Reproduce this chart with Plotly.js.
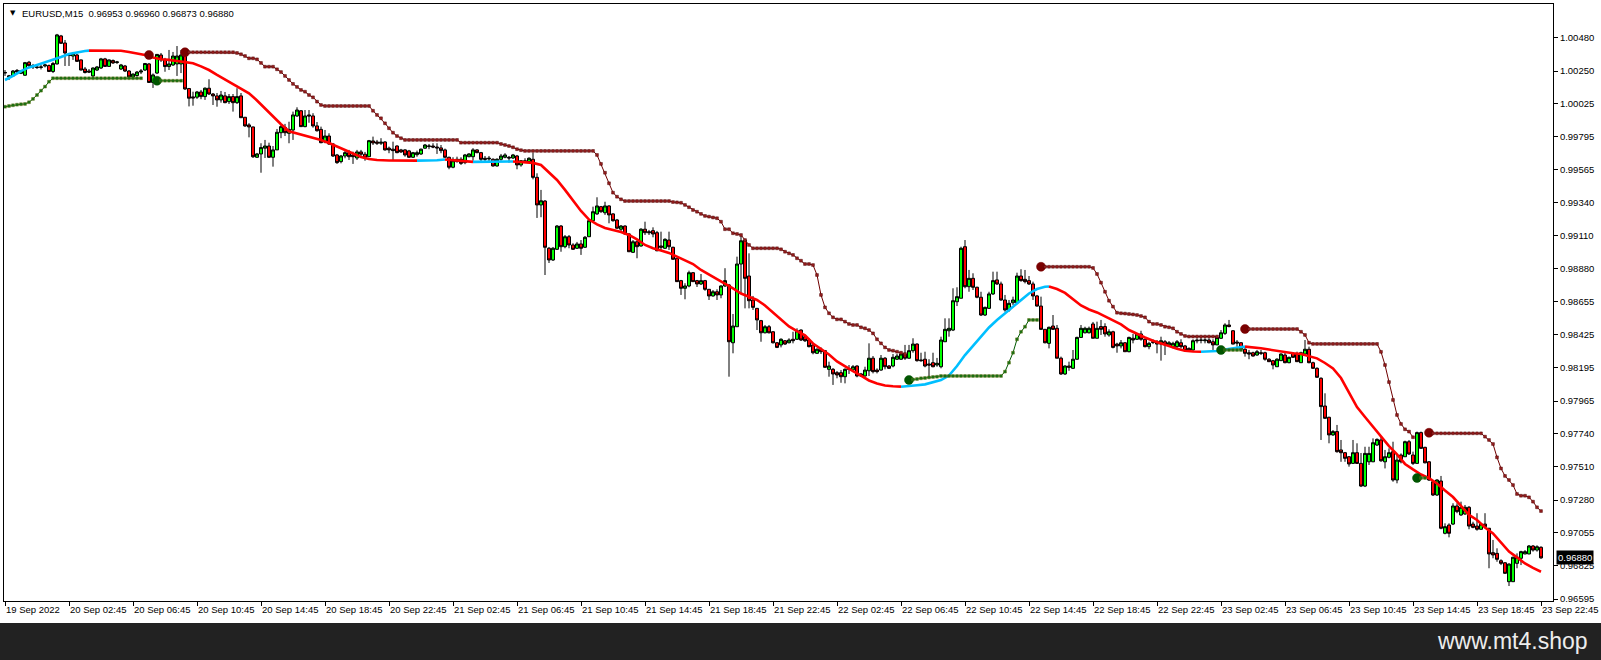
<!DOCTYPE html>
<html><head><meta charset="utf-8">
<script src="https://cdn.plot.ly/plotly-3.0.1.min.js"></script>
<style>html,body{margin:0;padding:0;background:#fff;}#chart{width:1601px;height:660px;}</style>
</head><body><div id="chart"></div>
<script>
const symbolName = 'EURUSD,M15';
const watermark = 'www.mt4.shop';

const timeTickBars = [0,16,32,48,64,80,96,112,128,144,160,176,192,208,224,240,256,272,288,304,320,336,352,368,384];
const timeTickLabels = ['19 Sep 2022','20 Sep 02:45','20 Sep 06:45','20 Sep 10:45','20 Sep 14:45','20 Sep 18:45','20 Sep 22:45',
  '21 Sep 02:45','21 Sep 06:45','21 Sep 10:45','21 Sep 14:45','21 Sep 18:45','21 Sep 22:45',
  '22 Sep 02:45','22 Sep 06:45','22 Sep 10:45','22 Sep 14:45','22 Sep 18:45','22 Sep 22:45',
  '23 Sep 02:45','23 Sep 06:45','23 Sep 10:45','23 Sep 14:45','23 Sep 18:45','23 Sep 22:45'];
const priceTicks = [1.00480,1.00250,1.00025,0.99795,0.99565,0.99340,0.99110,0.98880,0.98655,0.98425,0.98195,0.97965,0.97740,0.97510,0.97280,0.97055,0.96825,0.96595];

const open = [
1.00236,1.00209,1.00216,1.00254,1.00234,1.00221,1.00311,1.00278,1.00278,1.00275,
1.00285,1.00288,1.00247,1.00299,1.00493,1.00444,1.00361,1.00354,1.00361,1.00327,
1.00264,1.00250,1.00216,1.00257,1.00271,1.00334,1.00282,1.00323,1.00309,1.00264,
1.00285,1.00250,1.00209,1.00219,1.00243,1.00257,1.00299,1.00171,1.00236,1.00361,
1.00327,1.00281,1.00292,1.00299,1.00299,1.00361,1.00129,1.00071,1.00069,1.00105,
1.00073,1.00131,1.00091,1.00078,1.00050,1.00078,1.00038,1.00073,1.00031,1.00078,
0.99930,0.99877,0.99863,0.99653,0.99676,0.99716,0.99731,0.99653,0.99704,0.99823,
0.99860,0.99819,0.99842,0.99939,0.99975,0.99865,0.99946,0.99939,0.99870,0.99846,
0.99759,0.99800,0.99745,0.99669,0.99623,0.99662,0.99685,0.99669,0.99648,0.99690,
0.99674,0.99657,0.99766,0.99759,0.99750,0.99759,0.99716,0.99709,0.99731,0.99704,
0.99704,0.99697,0.99653,0.99671,0.99676,0.99716,0.99727,0.99731,0.99724,0.99718,
0.99704,0.99653,0.99584,0.99623,0.99639,0.99616,0.99657,0.99657,0.99704,0.99685,
0.99646,0.99641,0.99639,0.99593,0.99639,0.99653,0.99653,0.99648,0.99662,0.99600,
0.99629,0.99623,0.99639,0.99514,0.99323,0.99350,0.99023,0.98942,0.99016,0.99177,
0.99034,0.99103,0.99046,0.99023,0.99053,0.99030,0.99103,0.99214,0.99261,0.99311,
0.99269,0.99316,0.99261,0.99219,0.99155,0.99177,0.99122,0.98995,0.99068,0.99039,
0.99155,0.99138,0.99145,0.99131,0.99039,0.99023,0.99080,0.99030,0.98954,0.98799,
0.98746,0.98762,0.98854,0.98799,0.98776,0.98799,0.98739,0.98693,0.98722,0.98700,
0.98762,0.98769,0.98369,0.98480,0.98914,0.99080,0.98831,0.98665,0.98607,0.98522,
0.98438,0.98480,0.98445,0.98369,0.98354,0.98383,0.98369,0.98393,0.98393,0.98457,
0.98411,0.98388,0.98354,0.98296,0.98324,0.98314,0.98185,0.98185,0.98162,0.98162,
0.98134,0.98189,0.98182,0.98208,0.98153,0.98139,0.98175,0.98262,0.98180,0.98180,
0.98262,0.98208,0.98208,0.98255,0.98255,0.98291,0.98262,0.98314,0.98360,0.98250,
0.98255,0.98222,0.98231,0.98215,0.98203,0.98376,0.98452,0.98457,0.98653,0.98677,
0.99034,0.98757,0.98815,0.98753,0.98684,0.98561,0.98607,0.98707,0.98804,0.98776,
0.98665,0.98596,0.98646,0.98646,0.98831,0.98808,0.98799,0.98776,0.98693,0.98623,
0.98462,0.98365,0.98485,0.98469,0.98262,0.98153,0.98208,0.98192,0.98255,0.98406,
0.98438,0.98438,0.98499,0.98400,0.98481,0.98481,0.98423,0.98445,0.98360,0.98347,
0.98369,0.98307,0.98400,0.98393,0.98430,0.98393,0.98342,0.98376,0.98376,0.98360,
0.98376,0.98354,0.98342,0.98342,0.98369,0.98347,0.98330,0.98319,0.98388,0.98388,
0.98383,0.98388,0.98376,0.98354,0.98400,0.98434,0.98492,0.98452,0.98374,0.98369,
0.98324,0.98300,0.98300,0.98284,0.98300,0.98300,0.98255,0.98245,0.98203,0.98245,
0.98284,0.98231,0.98296,0.98291,0.98231,0.98291,0.98324,0.98231,0.98192,0.98123,
0.97931,0.97853,0.97731,0.97754,0.97627,0.97608,0.97580,0.97534,0.97608,0.97534,
0.97377,0.97545,0.97545,0.97661,0.97696,0.97545,0.97576,0.97615,0.97419,0.97592,
0.97580,0.97684,0.97592,0.97534,0.97747,0.97645,0.97545,0.97407,0.97315,0.97412,
0.97050,0.97107,0.97114,0.97239,0.97177,0.97184,0.97230,0.97114,0.97100,0.97078,
0.97114,0.97085,0.96916,0.96911,0.96860,0.96846,0.96715,0.96715,0.96842,0.96877,
0.96907,0.96907,0.96962,0.96934,0.96953];

const high = [
1.00257,1.00223,1.00257,1.00264,1.00257,1.00313,1.00320,1.00299,1.00288,1.00292,
1.00299,1.00295,1.00313,1.00507,1.00500,1.00465,1.00375,1.00382,1.00368,1.00330,
1.00278,1.00264,1.00275,1.00285,1.00341,1.00341,1.00330,1.00330,1.00320,1.00299,
1.00292,1.00257,1.00233,1.00250,1.00264,1.00306,1.00306,1.00233,1.00368,1.00375,
1.00341,1.00396,1.00382,1.00423,1.00396,1.00382,1.00133,1.00107,1.00112,1.00119,
1.00137,1.00193,1.00098,1.00098,1.00112,1.00105,1.00091,1.00091,1.00131,1.00098,
0.99932,0.99889,0.99865,0.99683,0.99750,0.99773,0.99754,0.99731,0.99849,0.99877,
0.99884,0.99899,0.99969,0.99999,0.99980,0.99980,0.99980,0.99958,0.99897,0.99865,
0.99842,0.99819,0.99752,0.99676,0.99669,0.99704,0.99704,0.99692,0.99704,0.99704,
0.99690,0.99773,0.99796,0.99773,0.99785,0.99764,0.99727,0.99761,0.99736,0.99711,
0.99709,0.99704,0.99690,0.99699,0.99713,0.99745,0.99745,0.99750,0.99750,0.99738,
0.99713,0.99657,0.99653,0.99657,0.99653,0.99676,0.99681,0.99716,0.99709,0.99690,
0.99662,0.99662,0.99646,0.99646,0.99676,0.99681,0.99662,0.99676,0.99669,0.99634,
0.99646,0.99653,0.99685,0.99542,0.99427,0.99357,0.99032,0.99032,0.99184,0.99184,
0.99115,0.99115,0.99058,0.99067,0.99080,0.99108,0.99219,0.99311,0.99376,0.99316,
0.99345,0.99321,0.99266,0.99226,0.99184,0.99182,0.99127,0.99080,0.99078,0.99162,
0.99207,0.99150,0.99168,0.99143,0.99138,0.99092,0.99138,0.99034,0.98956,0.98804,
0.98781,0.98868,0.98859,0.98804,0.98845,0.98804,0.98741,0.98734,0.98739,0.98767,
0.98885,0.98776,0.98568,0.98965,0.99115,0.99073,0.98988,0.98693,0.98610,0.98527,
0.98492,0.98492,0.98450,0.98374,0.98400,0.98388,0.98400,0.98445,0.98469,0.98462,
0.98416,0.98400,0.98358,0.98331,0.98337,0.98319,0.98238,0.98194,0.98173,0.98180,
0.98192,0.98215,0.98215,0.98213,0.98160,0.98203,0.98365,0.98277,0.98192,0.98284,
0.98270,0.98215,0.98291,0.98291,0.98307,0.98354,0.98354,0.98400,0.98365,0.98300,
0.98307,0.98255,0.98300,0.98264,0.98411,0.98538,0.98538,0.98746,0.98753,0.99034,
0.99080,0.98873,0.98850,0.98757,0.98722,0.98619,0.98722,0.98861,0.98861,0.98792,
0.98700,0.98665,0.98688,0.98854,0.98878,0.98873,0.98831,0.98792,0.98700,0.98688,
0.98464,0.98481,0.98561,0.98492,0.98273,0.98213,0.98238,0.98319,0.98411,0.98492,
0.98480,0.98481,0.98513,0.98515,0.98527,0.98504,0.98462,0.98452,0.98369,0.98388,
0.98374,0.98411,0.98430,0.98434,0.98452,0.98397,0.98376,0.98393,0.98388,0.98411,
0.98388,0.98381,0.98376,0.98388,0.98393,0.98354,0.98337,0.98393,0.98400,0.98406,
0.98400,0.98400,0.98393,0.98411,0.98457,0.98504,0.98527,0.98457,0.98388,0.98374,
0.98331,0.98319,0.98307,0.98319,0.98319,0.98307,0.98262,0.98250,0.98262,0.98296,
0.98300,0.98273,0.98305,0.98307,0.98307,0.98388,0.98342,0.98238,0.98199,0.98130,
0.98019,0.97857,0.97765,0.97800,0.97696,0.97613,0.97585,0.97696,0.97673,0.97606,
0.97649,0.97649,0.97707,0.97707,0.97719,0.97627,0.97638,0.97684,0.97592,0.97603,
0.97691,0.97696,0.97615,0.97754,0.97754,0.97649,0.97550,0.97412,0.97424,0.97447,
0.97119,0.97119,0.97258,0.97258,0.97269,0.97246,0.97239,0.97130,0.97189,0.97119,
0.97189,0.97087,0.97004,0.96946,0.96870,0.96851,0.96842,0.96888,0.96911,0.96929,
0.96934,0.96969,0.96969,0.96967,0.96960];

const low = [
1.00216,1.00188,1.00209,1.00229,1.00229,1.00216,1.00278,1.00264,1.00264,1.00261,
1.00275,1.00243,1.00236,1.00295,1.00437,1.00285,1.00285,1.00327,1.00313,1.00254,
1.00233,1.00236,1.00209,1.00250,1.00264,1.00278,1.00278,1.00299,1.00299,1.00257,
1.00243,1.00202,1.00202,1.00212,1.00229,1.00250,1.00168,1.00133,1.00229,1.00313,
1.00245,1.00257,1.00285,1.00216,1.00236,1.00119,1.00005,1.00010,1.00057,1.00055,
1.00050,1.00084,1.00015,1.00003,1.00031,1.00027,1.00022,0.99969,1.00022,0.99925,
0.99863,0.99791,0.99648,0.99648,0.99546,0.99648,0.99648,0.99588,0.99704,0.99785,
0.99800,0.99750,0.99773,0.99932,0.99863,0.99861,0.99892,0.99858,0.99830,0.99750,
0.99750,0.99738,0.99655,0.99607,0.99611,0.99646,0.99634,0.99607,0.99634,0.99657,
0.99629,0.99655,0.99738,0.99738,0.99738,0.99699,0.99681,0.99629,0.99681,0.99683,
0.99657,0.99648,0.99648,0.99657,0.99669,0.99711,0.99709,0.99716,0.99676,0.99681,
0.99648,0.99570,0.99577,0.99616,0.99600,0.99605,0.99653,0.99629,0.99681,0.99616,
0.99623,0.99616,0.99588,0.99588,0.99629,0.99646,0.99616,0.99641,0.99570,0.99588,
0.99616,0.99620,0.99500,0.99233,0.99238,0.98838,0.98921,0.98935,0.99011,0.98999,
0.99023,0.99023,0.99011,0.99018,0.98977,0.99025,0.99101,0.99212,0.99254,0.99269,
0.99254,0.99196,0.99207,0.99157,0.99138,0.99117,0.98997,0.98990,0.98954,0.99034,
0.99115,0.99115,0.99099,0.99002,0.99011,0.99018,0.99011,0.98942,0.98790,0.98700,
0.98670,0.98753,0.98790,0.98755,0.98769,0.98729,0.98665,0.98688,0.98665,0.98677,
0.98755,0.98134,0.98296,0.98478,0.98711,0.98607,0.98607,0.98596,0.98457,0.98376,
0.98434,0.98434,0.98364,0.98332,0.98337,0.98354,0.98365,0.98365,0.98388,0.98381,
0.98374,0.98337,0.98289,0.98291,0.98291,0.98194,0.98134,0.98077,0.98123,0.98092,
0.98088,0.98153,0.98175,0.98130,0.98132,0.98134,0.98139,0.98157,0.98157,0.98175,
0.98185,0.98187,0.98199,0.98250,0.98250,0.98250,0.98257,0.98300,0.98238,0.98238,
0.98199,0.98134,0.98199,0.98203,0.98192,0.98374,0.98411,0.98450,0.98623,0.98677,
0.98746,0.98722,0.98734,0.98677,0.98554,0.98554,0.98603,0.98700,0.98769,0.98660,
0.98584,0.98584,0.98630,0.98637,0.98792,0.98780,0.98769,0.98665,0.98619,0.98457,
0.98365,0.98330,0.98457,0.98262,0.98146,0.98146,0.98175,0.98187,0.98250,0.98402,
0.98434,0.98434,0.98400,0.98400,0.98423,0.98411,0.98411,0.98330,0.98300,0.98330,
0.98305,0.98303,0.98365,0.98388,0.98383,0.98337,0.98324,0.98360,0.98296,0.98245,
0.98284,0.98347,0.98330,0.98330,0.98330,0.98307,0.98307,0.98314,0.98365,0.98365,
0.98365,0.98365,0.98319,0.98354,0.98395,0.98423,0.98476,0.98358,0.98342,0.98319,
0.98273,0.98255,0.98273,0.98279,0.98284,0.98245,0.98236,0.98185,0.98201,0.98243,
0.98227,0.98227,0.98264,0.98236,0.98229,0.98284,0.98227,0.98187,0.98125,0.97696,
0.97841,0.97673,0.97724,0.97608,0.97545,0.97545,0.97511,0.97530,0.97530,0.97370,
0.97370,0.97523,0.97543,0.97654,0.97545,0.97499,0.97569,0.97407,0.97396,0.97534,
0.97578,0.97592,0.97523,0.97534,0.97634,0.97534,0.97412,0.97308,0.97308,0.97078,
0.97043,0.97022,0.97107,0.97189,0.97170,0.97177,0.97078,0.97085,0.97068,0.97073,
0.97085,0.96808,0.96877,0.96853,0.96830,0.96768,0.96685,0.96713,0.96808,0.96830,
0.96905,0.96905,0.96923,0.96923,0.96873];

const close = [
1.00240,1.00216,1.00250,1.00243,1.00252,1.00308,1.00287,1.00288,1.00275,1.00278,
1.00292,1.00247,1.00302,1.00500,1.00442,1.00375,1.00358,1.00372,1.00317,1.00257,
1.00240,1.00243,1.00271,1.00278,1.00334,1.00282,1.00327,1.00306,1.00313,1.00292,
1.00250,1.00209,1.00229,1.00243,1.00250,1.00302,1.00171,1.00223,1.00365,1.00327,
1.00281,1.00299,1.00354,1.00354,1.00361,1.00126,1.00062,1.00064,1.00105,1.00073,
1.00131,1.00091,1.00078,1.00050,1.00084,1.00031,1.00073,1.00031,1.00073,0.99927,
0.99870,0.99863,0.99657,0.99676,0.99720,0.99731,0.99653,0.99704,0.99826,0.99865,
0.99823,0.99846,0.99946,0.99980,0.99865,0.99939,0.99939,0.99870,0.99837,0.99754,
0.99800,0.99745,0.99662,0.99616,0.99662,0.99685,0.99657,0.99657,0.99690,0.99674,
0.99648,0.99768,0.99752,0.99750,0.99757,0.99704,0.99704,0.99699,0.99685,0.99690,
0.99669,0.99653,0.99685,0.99685,0.99709,0.99738,0.99731,0.99724,0.99718,0.99699,
0.99653,0.99584,0.99629,0.99639,0.99611,0.99669,0.99676,0.99704,0.99685,0.99639,
0.99639,0.99646,0.99593,0.99639,0.99662,0.99669,0.99648,0.99669,0.99600,0.99629,
0.99623,0.99646,0.99514,0.99323,0.99352,0.99030,0.98942,0.99023,0.99177,0.99034,
0.99103,0.99046,0.99016,0.99053,0.99023,0.99099,0.99214,0.99276,0.99316,0.99276,
0.99316,0.99254,0.99214,0.99162,0.99177,0.99122,0.98999,0.99068,0.99034,0.99155,
0.99131,0.99131,0.99122,0.99006,0.99030,0.99085,0.99034,0.98947,0.98792,0.98746,
0.98762,0.98854,0.98792,0.98776,0.98799,0.98739,0.98693,0.98722,0.98700,0.98762,
0.98799,0.98376,0.98485,0.98914,0.99075,0.98815,0.98660,0.98614,0.98527,0.98438,
0.98480,0.98438,0.98369,0.98337,0.98393,0.98360,0.98388,0.98383,0.98452,0.98388,
0.98383,0.98342,0.98300,0.98324,0.98307,0.98199,0.98208,0.98153,0.98146,0.98134,
0.98185,0.98185,0.98203,0.98139,0.98139,0.98180,0.98262,0.98169,0.98169,0.98262,
0.98203,0.98192,0.98268,0.98277,0.98291,0.98262,0.98314,0.98360,0.98245,0.98245,
0.98208,0.98215,0.98203,0.98227,0.98388,0.98462,0.98469,0.98660,0.98688,0.99023,
0.98757,0.98815,0.98753,0.98684,0.98561,0.98614,0.98707,0.98799,0.98776,0.98665,
0.98596,0.98642,0.98665,0.98831,0.98799,0.98792,0.98776,0.98693,0.98623,0.98462,
0.98369,0.98476,0.98462,0.98262,0.98153,0.98208,0.98199,0.98255,0.98406,0.98469,
0.98469,0.98469,0.98400,0.98469,0.98462,0.98430,0.98445,0.98337,0.98347,0.98369,
0.98307,0.98406,0.98388,0.98430,0.98393,0.98342,0.98365,0.98372,0.98360,0.98383,
0.98354,0.98369,0.98365,0.98376,0.98342,0.98314,0.98314,0.98383,0.98383,0.98386,
0.98388,0.98369,0.98354,0.98406,0.98438,0.98492,0.98481,0.98360,0.98367,0.98324,
0.98296,0.98291,0.98277,0.98307,0.98296,0.98255,0.98238,0.98215,0.98255,0.98291,
0.98231,0.98268,0.98268,0.98238,0.98300,0.98324,0.98231,0.98192,0.98130,0.97927,
0.97846,0.97731,0.97754,0.97615,0.97608,0.97569,0.97530,0.97608,0.97534,0.97377,
0.97603,0.97603,0.97677,0.97700,0.97552,0.97580,0.97608,0.97419,0.97557,0.97545,
0.97684,0.97599,0.97534,0.97747,0.97638,0.97538,0.97419,0.97315,0.97419,0.97085,
0.97096,0.97050,0.97239,0.97200,0.97230,0.97230,0.97100,0.97091,0.97078,0.97114,
0.97096,0.96907,0.96900,0.96870,0.96842,0.96773,0.96837,0.96884,0.96884,0.96923,
0.96923,0.96962,0.96934,0.96957,0.96880];

// smoothed moving average, sampled along the bars
const maBars = [0,2,4,6,8,10,12,14,16,18,20,21,24,27,29,31,33,35,37,39,41,43,45,47,49,51,53,55,57,59,61,63,65,67,69,71,73,75,77,79,81,83,85,87,89,91,93,96,99,103,106,108,110,113,117,122,127,130,132,134,136,138,140,142,144,146,148,150,152,154,156,158,160,162,164,166,168,170,172,174,176,178,180,182,184,186,188,190,192,194,196,198,200,202,204,206,208,210,212,214,216,218,220,222,224,226,228,230,232,234,236,238,240,242,244,246,248,250,252,254,256,258,260,261,263,265,267,269,271,273,275,277,279,281,283,285,287,289,291,293,295,297,299,301,303,305,307,310,312,314,316,318,320,322,324,326,328,330,332,334,336,338,340,342,344,346,348,350,352,354,356,358,360,362,364,366,368,370,372,374,376,378,380,382,384];
const maValues = [
1.00188,1.00216,1.00250,1.00275,1.00292,1.00309,1.00327,1.00347,1.00368,1.00380,1.00389,1.00391,1.00391,1.00391,1.00390,1.00382,1.00373,1.00361,1.00344,1.00332,
1.00327,1.00320,1.00315,1.00304,1.00282,1.00257,1.00223,1.00192,1.00157,1.00131,1.00096,1.00046,0.99991,0.99932,0.99882,0.99833,0.99818,0.99805,0.99790,0.99773,
0.99752,0.99728,0.99704,0.99679,0.99655,0.99641,0.99634,0.99631,0.99630,0.99630,0.99631,0.99632,0.99638,0.99631,0.99621,0.99622,0.99624,0.99621,0.99614,0.99600,
0.99548,0.99496,0.99427,0.99350,0.99281,0.99222,0.99188,0.99164,0.99150,0.99136,0.99115,0.99084,0.99046,0.99023,0.99008,0.98991,0.98965,0.98942,0.98914,0.98873,
0.98842,0.98811,0.98781,0.98745,0.98710,0.98689,0.98665,0.98627,0.98579,0.98527,0.98482,0.98449,0.98420,0.98364,0.98326,0.98288,0.98240,0.98205,0.98173,0.98142,
0.98108,0.98087,0.98073,0.98068,0.98065,0.98068,0.98075,0.98081,0.98094,0.98111,0.98142,0.98208,0.98284,0.98350,0.98412,0.98475,0.98527,0.98573,0.98620,0.98665,
0.98710,0.98741,0.98757,0.98758,0.98741,0.98714,0.98669,0.98627,0.98599,0.98579,0.98551,0.98523,0.98496,0.98457,0.98430,0.98405,0.98383,0.98367,0.98346,0.98328,
0.98313,0.98308,0.98307,0.98307,0.98312,0.98322,0.98329,0.98342,0.98338,0.98331,0.98322,0.98312,0.98303,0.98296,0.98291,0.98277,0.98261,0.98229,0.98191,0.98125,
0.98028,0.97924,0.97855,0.97786,0.97720,0.97654,0.97596,0.97530,0.97492,0.97457,0.97431,0.97395,0.97346,0.97301,0.97239,0.97177,0.97142,0.97090,0.97049,0.96986,
0.96923,0.96883,0.96841,0.96810,0.96784];
// bars where the average changes direction (it starts rising)
const maTurnBars = [21,103,110,117,127,224,261,299,310];

// trailing stop above price (falling trend): first bar of each run and its values
const stopDownStarts = [36,45,259,310,356];
const stopDownValues = [
 [1.00361],
 [1.00380,1.00380,1.00380,1.00380,1.00380,1.00380,1.00380,1.00380,1.00380,1.00380,
  1.00380,1.00380,1.00380,1.00375,1.00366,1.00354,1.00338,1.00338,1.00331,1.00306,
  1.00280,1.00280,1.00280,1.00262,1.00243,1.00216,1.00188,1.00161,1.00140,1.00119,
  1.00107,1.00084,1.00068,1.00038,1.00015,1.00008,1.00008,1.00008,1.00008,1.00008,
  1.00008,1.00008,1.00008,1.00008,1.00008,1.00008,1.00008,0.99975,0.99946,0.99923,
  0.99888,0.99854,0.99823,0.99800,0.99785,0.99773,0.99773,0.99773,0.99773,0.99773,
  0.99773,0.99773,0.99773,0.99773,0.99773,0.99773,0.99773,0.99773,0.99773,0.99754,
  0.99754,0.99754,0.99754,0.99754,0.99754,0.99754,0.99754,0.99754,0.99754,0.99745,
  0.99738,0.99731,0.99722,0.99709,0.99702,0.99697,0.99697,0.99697,0.99697,0.99697,
  0.99697,0.99697,0.99697,0.99697,0.99697,0.99697,0.99697,0.99697,0.99697,0.99697,
  0.99697,0.99697,0.99697,0.99669,0.99607,0.99546,0.99473,0.99408,0.99380,0.99362,
  0.99350,0.99350,0.99350,0.99350,0.99350,0.99350,0.99350,0.99350,0.99350,0.99350,
  0.99350,0.99350,0.99343,0.99341,0.99338,0.99323,0.99307,0.99288,0.99276,0.99261,
  0.99247,0.99242,0.99236,0.99231,0.99207,0.99155,0.99155,0.99127,0.99122,0.99115,
  0.99080,0.99046,0.99023,0.99023,0.99023,0.99023,0.99023,0.99023,0.99023,0.99016,
  0.98999,0.98988,0.98977,0.98954,0.98937,0.98914,0.98914,0.98907,0.98838,0.98700,
  0.98614,0.98573,0.98545,0.98531,0.98531,0.98515,0.98499,0.98492,0.98492,0.98476,
  0.98469,0.98457,0.98434,0.98393,0.98365,0.98337,0.98319,0.98314,0.98307,0.98300,0.98291],
 [0.98895,0.98895,0.98895,0.98895,0.98895,0.98895,0.98895,0.98895,0.98895,0.98895,
  0.98895,0.98895,0.98895,0.98887,0.98845,0.98785,0.98722,0.98660,0.98619,0.98577,
  0.98573,0.98571,0.98568,0.98565,0.98561,0.98554,0.98545,0.98515,0.98499,0.98499,
  0.98492,0.98480,0.98476,0.98469,0.98445,0.98430,0.98416,0.98412,0.98412,0.98412,
  0.98412,0.98412,0.98412,0.98412,0.98412],
 [0.98464,0.98464,0.98464,0.98464,0.98464,0.98464,0.98464,0.98464,0.98464,0.98464,
  0.98464,0.98464,0.98464,0.98464,0.98445,0.98423,0.98369,0.98361,0.98361,0.98361,
  0.98361,0.98361,0.98361,0.98361,0.98361,0.98361,0.98361,0.98361,0.98361,0.98361,
  0.98361,0.98361,0.98361,0.98361,0.98306,0.98215,0.98097,0.97973,0.97869,0.97807,
  0.97770,0.97754,0.97715],
 [0.97746,0.97742,0.97742,0.97742,0.97742,0.97742,0.97742,0.97742,0.97742,0.97742,
  0.97742,0.97742,0.97742,0.97742,0.97719,0.97696,0.97668,0.97576,0.97499,0.97447,
  0.97419,0.97384,0.97322,0.97310,0.97310,0.97299,0.97269,0.97230,0.97204]
];

// trailing stop below price (rising trend)
const stopUpStarts = [0,38,226,304,353];
const stopUpValues = [
 [1.00003,1.00008,1.00013,1.00017,1.00020,1.00022,1.00034,1.00057,1.00084,1.00114,
  1.00142,1.00176,1.00200,1.00200,1.00200,1.00200,1.00200,1.00200,1.00200,1.00200,
  1.00200,1.00200,1.00200,1.00200,1.00200,1.00200,1.00200,1.00200,1.00200,1.00200,
  1.00200,1.00200,1.00200,1.00200,1.00200],
 [1.00183,1.00183,1.00183,1.00183,1.00183,1.00183,1.00183],
 [0.98111,0.98115,0.98118,0.98123,0.98125,0.98129,0.98132,0.98134,0.98139,0.98139,
  0.98139,0.98139,0.98139,0.98139,0.98139,0.98139,0.98139,0.98139,0.98139,0.98139,
  0.98139,0.98139,0.98139,0.98139,0.98169,0.98231,0.98300,0.98393,0.98445,0.98480,
  0.98527,0.98527,0.98527],
 [0.98319,0.98319,0.98319,0.98319,0.98319,0.98319],
 [0.97433,0.97433,0.97433]
];

const FONT = 'Liberation Sans, Arial, sans-serif';
const bars = open.map((_, i) => i);
const traces = [];

traces.push({
  type: 'candlestick', x: bars, open: open, high: high, low: low, close: close,
  increasing: {line: {color: '#000000', width: 1}, fillcolor: '#00FF00'},
  decreasing: {line: {color: '#000000', width: 1}, fillcolor: '#FF0000'},
  whiskerwidth: 0, hoverinfo: 'skip'
});

// moving average, coloured by direction
const bounds = [0].concat(maTurnBars, [bars.length - 1]);
for (let k = 0; k < bounds.length - 1; k++) {
  const a = bounds[k], b = bounds[k + 1];
  const xs = [], ys = [];
  maBars.forEach((bi, j) => { if (bi >= a && bi <= b) { xs.push(bi); ys.push(maValues[j]); } });
  traces.push({type: 'scatter', mode: 'lines', x: xs, y: ys, hoverinfo: 'skip',
    line: {color: k % 2 === 0 ? '#00BFFF' : '#FF0000', width: 2.6}});
}

function addStops(starts, values, lineColor, dotColor, dotEdge, bigColor) {
  starts.forEach((s, n) => {
    const vals = values[n];
    const xs = vals.map((_, k) => s + k);
    const big = s > 0;
    traces.push({type: 'scatter', mode: 'lines+markers', x: xs, y: vals, hoverinfo: 'skip',
      line: {color: lineColor, width: 1},
      marker: {
        opacity: 1,
        symbol: vals.map((_, k) => (k === 0 && big) ? 'circle' : 'square'),
        size: vals.map((_, k) => (k === 0 && big) ? 9 : 2.8),
        color: vals.map((_, k) => (k === 0 && big) ? bigColor : dotColor),
        line: {color: vals.map((_, k) => (k === 0 && big) ? bigColor : dotEdge), width: 0.5}
      }});
  });
}
addStops(stopDownStarts, stopDownValues, '#700000', '#961E1E', '#500000', '#7A0000');
addStops(stopUpStarts, stopUpValues, '#005A00', '#157015', '#5E6E10', '#005500');

const n = close.length - 1;
const header = symbolName + '  ' + [open[n], high[n], low[n], close[n]].map(v => v.toFixed(5)).join(' ');

const layout = {
  width: 1601, height: 660,
  margin: {l: 4, r: 48, t: 4, b: 59, pad: 0},
  paper_bgcolor: '#FFFFFF', plot_bgcolor: '#FFFFFF',
  showlegend: false, hovermode: false,
  font: {family: FONT, size: 9.5, color: '#000000'},
  boxgap: 0.25, boxgroupgap: 0,
  xaxis: {
    range: [-0.25, 387], rangeslider: {visible: false}, showgrid: false, zeroline: false,
    showline: true, mirror: true, linecolor: '#000000', linewidth: 1,
    ticks: 'outside', ticklen: 4, tickcolor: '#000000', tickwidth: 1,
    tickvals: timeTickBars, ticktext: timeTickLabels, tickangle: 0, automargin: false,
    ticklabelposition: 'outside right', ticklabeloverflow: 'allow',
    tickfont: {family: FONT, size: 9.5, color: '#000000'}, fixedrange: true
  },
  yaxis: {
    side: 'right', range: [0.965813, 1.00714], showgrid: false, zeroline: false,
    showline: true, mirror: true, linecolor: '#000000', linewidth: 1,
    ticks: 'outside', ticklen: 4, tickcolor: '#000000', tickwidth: 1,
    tickvals: priceTicks, ticktext: priceTicks.map(v => v.toFixed(5)), automargin: false,
    ticklabeloverflow: 'allow',
    tickfont: {family: FONT, size: 9.5, color: '#000000'}, fixedrange: true
  },
  shapes: [
    {type: 'rect', xref: 'paper', yref: 'paper', x0: -0.01, x1: 1.04, y0: -0.11, y1: -0.0369,
     fillcolor: '#222222', line: {width: 0}, layer: 'above'}
  ],
  annotations: [
    {xref: 'paper', yref: 'paper', x: 0, y: 1, xanchor: 'left', yanchor: 'middle', xshift: 4, yshift: -9,
     text: '\u25BC', showarrow: false, font: {family: 'DejaVu Sans', size: 7, color: '#000000'}},
    {xref: 'paper', yref: 'paper', x: 0, y: 1, xanchor: 'left', yanchor: 'middle', xshift: 16, yshift: -9,
     text: header, showarrow: false, font: {family: FONT, size: 9.5, color: '#000000'}},
    {xref: 'paper', yref: 'y', x: 1, y: close[n], xanchor: 'left', yanchor: 'middle', xshift: 3,
     text: close[n].toFixed(5), showarrow: false, bgcolor: '#000000', borderpad: 1,
     font: {family: FONT, size: 9.5, color: '#FFFFFF'}},
    {xref: 'paper', yref: 'paper', x: 1.0239, y: -0.0665, xanchor: 'right', yanchor: 'middle',
     text: watermark, showarrow: false, font: {family: FONT, size: 23, color: '#EDEDED'}}
  ]
};

Plotly.newPlot('chart', traces, layout, {staticPlot: true, displayModeBar: false});
</script>
</body></html>
